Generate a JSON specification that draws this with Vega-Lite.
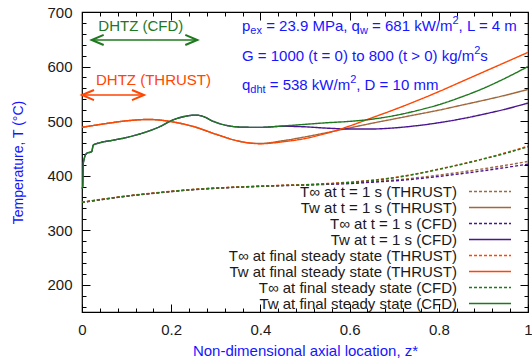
{
  "$schema": "https://vega.github.io/schema/vega-lite/v6.json",
  "width": 446,
  "height": 300,
  "autosize": "none",
  "padding": {"left": 82, "top": 12, "right": 4, "bottom": 52},
  "background": "white",
  "config": {
    "view": {"stroke": "black", "strokeWidth": 1.2},
    "axis": {"domain": false, "grid": false, "tickColor": "black", "tickWidth": 1, "labelFont": "Liberation Sans", "labelFontSize": 15, "labelColor": "#1a1a1a", "titleFont": "Liberation Sans", "titleFontSize": 15, "titleColor": "#1515ff", "titleFontWeight": "normal", "labelFlush": false, "labelOverlap": false},
    "text": {"font": "Liberation Sans"}
  },
  "datasets": {
    "series": [
      {"s": "A", "label": "T∞ at t = 1 s (THRUST)"},
      {"s": "B", "label": "Tw at t = 1 s (THRUST)"},
      {"s": "C", "label": "T∞ at t = 1 s (CFD)"},
      {"s": "D", "label": "Tw at t = 1 s (CFD)"},
      {"s": "E", "label": "T∞ at final steady state (THRUST)"},
      {"s": "F", "label": "Tw at final steady state (THRUST)"},
      {"s": "G", "label": "T∞ at final steady state (CFD)"},
      {"s": "H", "label": "Tw at final steady state (CFD)"}
    ],
    "curves": [
      {"s":"A","z":0,"T":351},{"s":"A","z":0.05,"T":357},{"s":"A","z":0.1,"T":362.5},{"s":"A","z":0.15,"T":367},{"s":"A","z":0.2,"T":371},{"s":"A","z":0.25,"T":374.5},{"s":"A","z":0.3,"T":377},{"s":"A","z":0.35,"T":379},{"s":"A","z":0.4,"T":380.5},{"s":"A","z":0.45,"T":382},{"s":"A","z":0.5,"T":383},{"s":"A","z":0.55,"T":384.5},{"s":"A","z":0.6,"T":386.5},{"s":"A","z":0.65,"T":389},{"s":"A","z":0.7,"T":392},{"s":"A","z":0.75,"T":396},{"s":"A","z":0.8,"T":401},{"s":"A","z":0.85,"T":406.5},{"s":"A","z":0.9,"T":412.5},{"s":"A","z":0.95,"T":419},{"s":"A","z":1,"T":426},
      {"s":"B","z":0,"T":488.5},{"s":"B","z":0.05,"T":495},{"s":"B","z":0.1,"T":500.5},{"s":"B","z":0.15,"T":503},{"s":"B","z":0.2,"T":499},{"s":"B","z":0.25,"T":490},{"s":"B","z":0.3,"T":476},{"s":"B","z":0.35,"T":463.5},{"s":"B","z":0.38,"T":459.5},{"s":"B","z":0.4,"T":459},{"s":"B","z":0.45,"T":464},{"s":"B","z":0.5,"T":471},{"s":"B","z":0.55,"T":479},{"s":"B","z":0.6,"T":487.5},{"s":"B","z":0.65,"T":496},{"s":"B","z":0.7,"T":504},{"s":"B","z":0.75,"T":512},{"s":"B","z":0.8,"T":520},{"s":"B","z":0.85,"T":529},{"s":"B","z":0.9,"T":538},{"s":"B","z":0.95,"T":547.5},{"s":"B","z":1,"T":558},
      {"s":"C","z":0,"T":350.8},{"s":"C","z":0.05,"T":356.8},{"s":"C","z":0.1,"T":362.3},{"s":"C","z":0.15,"T":366.8},{"s":"C","z":0.2,"T":370.8},{"s":"C","z":0.25,"T":374.3},{"s":"C","z":0.3,"T":376.8},{"s":"C","z":0.35,"T":378.8},{"s":"C","z":0.4,"T":380.3},{"s":"C","z":0.45,"T":381.7},{"s":"C","z":0.5,"T":382.7},{"s":"C","z":0.55,"T":384},{"s":"C","z":0.6,"T":385.5},{"s":"C","z":0.65,"T":388},{"s":"C","z":0.7,"T":390.5},{"s":"C","z":0.75,"T":394},{"s":"C","z":0.8,"T":398.5},{"s":"C","z":0.85,"T":403.5},{"s":"C","z":0.9,"T":409},{"s":"C","z":0.95,"T":415},{"s":"C","z":1,"T":421},
      {"s":"D","z":0,"T":376},{"s":"D","z":0.0016,"T":380},{"s":"D","z":0.0029,"T":423},{"s":"D","z":0.0105,"T":441},{"s":"D","z":0.0217,"T":444},{"s":"D","z":0.0253,"T":456},{"s":"D","z":0.0404,"T":460.4},{"s":"D","z":0.07,"T":465},{"s":"D","z":0.1,"T":470},{"s":"D","z":0.134,"T":477.6},{"s":"D","z":0.1745,"T":489.8},{"s":"D","z":0.2036,"T":502},{"s":"D","z":0.23,"T":508.5},{"s":"D","z":0.253,"T":511},{"s":"D","z":0.27,"T":509},{"s":"D","z":0.293,"T":500},{"s":"D","z":0.331,"T":491},{"s":"D","z":0.368,"T":488.6},{"s":"D","z":0.4,"T":488.5},{"s":"D","z":0.45,"T":490.5},{"s":"D","z":0.5,"T":489.5},{"s":"D","z":0.55,"T":487},{"s":"D","z":0.6,"T":485.5},{"s":"D","z":0.65,"T":485.5},{"s":"D","z":0.7,"T":487.5},{"s":"D","z":0.75,"T":491.5},{"s":"D","z":0.8,"T":497},{"s":"D","z":0.85,"T":504},{"s":"D","z":0.9,"T":512.5},{"s":"D","z":0.95,"T":522},{"s":"D","z":1,"T":533},
      {"s":"E","z":0,"T":351.3},{"s":"E","z":0.05,"T":357.3},{"s":"E","z":0.1,"T":362.8},{"s":"E","z":0.15,"T":367.3},{"s":"E","z":0.2,"T":371.3},{"s":"E","z":0.25,"T":374.8},{"s":"E","z":0.3,"T":377.3},{"s":"E","z":0.35,"T":379.3},{"s":"E","z":0.4,"T":380.8},{"s":"E","z":0.45,"T":382.3},{"s":"E","z":0.5,"T":383.5},{"s":"E","z":0.55,"T":385.5},{"s":"E","z":0.6,"T":388},{"s":"E","z":0.65,"T":391.5},{"s":"E","z":0.7,"T":396.5},{"s":"E","z":0.75,"T":403.5},{"s":"E","z":0.8,"T":412},{"s":"E","z":0.85,"T":421},{"s":"E","z":0.9,"T":431},{"s":"E","z":0.95,"T":442},{"s":"E","z":1,"T":454},
      {"s":"F","z":0,"T":488.5},{"s":"F","z":0.05,"T":495},{"s":"F","z":0.1,"T":500.5},{"s":"F","z":0.15,"T":503},{"s":"F","z":0.2,"T":499},{"s":"F","z":0.25,"T":490},{"s":"F","z":0.3,"T":476},{"s":"F","z":0.35,"T":463.5},{"s":"F","z":0.38,"T":459.5},{"s":"F","z":0.4,"T":458.5},{"s":"F","z":0.45,"T":462},{"s":"F","z":0.5,"T":468},{"s":"F","z":0.55,"T":478},{"s":"F","z":0.6,"T":491},{"s":"F","z":0.65,"T":506},{"s":"F","z":0.7,"T":521},{"s":"F","z":0.75,"T":537},{"s":"F","z":0.8,"T":554},{"s":"F","z":0.85,"T":572},{"s":"F","z":0.9,"T":590},{"s":"F","z":0.95,"T":608},{"s":"F","z":1,"T":626},
      {"s":"G","z":0,"T":351},{"s":"G","z":0.05,"T":357},{"s":"G","z":0.1,"T":362.5},{"s":"G","z":0.15,"T":367},{"s":"G","z":0.2,"T":371},{"s":"G","z":0.25,"T":374.5},{"s":"G","z":0.3,"T":377},{"s":"G","z":0.35,"T":379},{"s":"G","z":0.4,"T":380.5},{"s":"G","z":0.45,"T":382},{"s":"G","z":0.5,"T":383.2},{"s":"G","z":0.55,"T":385},{"s":"G","z":0.6,"T":387.5},{"s":"G","z":0.65,"T":391},{"s":"G","z":0.7,"T":396},{"s":"G","z":0.75,"T":403},{"s":"G","z":0.8,"T":411.5},{"s":"G","z":0.85,"T":420.5},{"s":"G","z":0.9,"T":430.5},{"s":"G","z":0.95,"T":441},{"s":"G","z":1,"T":453},
      {"s":"H","z":0,"T":376},{"s":"H","z":0.0016,"T":380},{"s":"H","z":0.0029,"T":423},{"s":"H","z":0.0105,"T":441},{"s":"H","z":0.0217,"T":444},{"s":"H","z":0.0253,"T":456},{"s":"H","z":0.0404,"T":460.4},{"s":"H","z":0.07,"T":465},{"s":"H","z":0.1,"T":470},{"s":"H","z":0.134,"T":477.6},{"s":"H","z":0.1745,"T":489.8},{"s":"H","z":0.2036,"T":502},{"s":"H","z":0.23,"T":508.5},{"s":"H","z":0.253,"T":511},{"s":"H","z":0.27,"T":509},{"s":"H","z":0.293,"T":500},{"s":"H","z":0.331,"T":491},{"s":"H","z":0.368,"T":488.6},{"s":"H","z":0.4,"T":488.5},{"s":"H","z":0.45,"T":491},{"s":"H","z":0.5,"T":494},{"s":"H","z":0.55,"T":497},{"s":"H","z":0.6,"T":499.5},{"s":"H","z":0.65,"T":503.5},{"s":"H","z":0.7,"T":510},{"s":"H","z":0.75,"T":519},{"s":"H","z":0.8,"T":530},{"s":"H","z":0.85,"T":544},{"s":"H","z":0.9,"T":560},{"s":"H","z":0.95,"T":579},{"s":"H","z":1,"T":600}
    ],
    "arrows": [
      {"name": "CFD", "z1": 0.0217, "z2": 0.2585, "T": 648.7, "zt": 0.1318, "Tt": 664.5, "label": "DHTZ (CFD)"},
      {"name": "THRUST", "z1": 0, "z2": 0.139, "T": 547.8, "zt": 0.1603, "Tt": 566.2, "label": "DHTZ (THRUST)"}
    ],
    "notes": [
      {"k": "main", "t": "p", "z": 0.3587, "T": 664.6},
      {"k": "sub", "t": "ex", "z": 0.3774, "T": 664.6},
      {"k": "main", "t": "= 23.9 MPa, q", "z": 0.4129, "T": 664.6},
      {"k": "sub", "t": "w", "z": 0.6232, "T": 664.6},
      {"k": "main", "t": "= 681 kW/m", "z": 0.6504, "T": 664.6},
      {"k": "sup", "t": "2", "z": 0.8307, "T": 664.6},
      {"k": "main", "t": ", L = 4 m", "z": 0.8444, "T": 664.6},
      {"k": "main", "t": "G = 1000 (t = 0) to 800 (t > 0) kg/m", "z": 0.3587, "T": 610.7},
      {"k": "sup", "t": "2", "z": 0.8794, "T": 610.7},
      {"k": "main", "t": "s", "z": 0.893, "T": 610.7},
      {"k": "main", "t": "q", "z": 0.3587, "T": 557.0},
      {"k": "sub", "t": "dht", "z": 0.3774, "T": 557.0},
      {"k": "main", "t": "= 538 kW/m", "z": 0.4209, "T": 557.0},
      {"k": "sup", "t": "2", "z": 0.6013, "T": 557.0},
      {"k": "main", "t": ", D = 10 mm", "z": 0.615, "T": 557.0}
    ]
  },
  "resolve": {"axis": {"x": "independent", "y": "independent"}},
  "layer": [
    {
      "data": {"name": "curves"},
      "transform": [{"lookup": "s", "from": {"data": {"name": "series"}, "key": "s", "fields": ["label"]}}],
      "mark": {"type": "line", "strokeWidth": 1.4, "interpolate": "monotone"},
      "encoding": {
        "x": {"field": "z", "type": "quantitative", "scale": {"domain": [0, 1], "nice": false, "zero": false},
              "axis": {"orient": "bottom", "values": [0, 0.2, 0.4, 0.6, 0.8, 1], "format": "~g", "tickSize": -8, "labelPadding": 18, "title": "Non-dimensional axial location, z*", "titlePadding": 6}},
        "y": {"field": "T", "type": "quantitative", "scale": {"domain": [150, 700], "nice": false, "zero": false},
              "axis": {"orient": "left", "values": [200, 300, 400, 500, 600, 700], "tickSize": -8, "labelPadding": 18, "title": "Temperature, T (°C)", "titleFontSize": 14, "titlePadding": 21}},
        "color": {"field": "label", "type": "nominal",
          "scale": {"domain": ["T∞ at t = 1 s (THRUST)", "Tw at t = 1 s (THRUST)", "T∞ at t = 1 s (CFD)", "Tw at t = 1 s (CFD)", "T∞ at final steady state (THRUST)", "Tw at final steady state (THRUST)", "T∞ at final steady state (CFD)", "Tw at final steady state (CFD)"],
                    "range": ["#a0683c", "#a0683c", "#4a1590", "#4a1590", "#ff4500", "#ff4500", "#1e781e", "#1e781e"]},
          "legend": {"title": null, "orient": "none", "legendX": 400, "legendY": 171.5, "padding": 0, "rowPadding": 0, "labelAlign": "right", "labelOffset": -41, "labelLimit": 400, "labelFont": "Liberation Sans", "labelFontSize": 15, "labelColor": "#1a1a1a", "symbolType": "M -3 0 L 3 0", "symbolSize": 196, "symbolStrokeWidth": 1.4}},
        "strokeDash": {"field": "label", "type": "nominal",
          "scale": {"domain": ["T∞ at t = 1 s (THRUST)", "Tw at t = 1 s (THRUST)", "T∞ at t = 1 s (CFD)", "Tw at t = 1 s (CFD)", "T∞ at final steady state (THRUST)", "Tw at final steady state (THRUST)", "T∞ at final steady state (CFD)", "Tw at final steady state (CFD)"],
                    "range": [[3, 2], [1, 0], [3, 2], [1, 0], [3, 2], [1, 0], [3, 2], [1, 0]]},
          "legend": {"title": null, "orient": "none", "legendX": 400, "legendY": 171.5, "padding": 0, "rowPadding": 0, "labelAlign": "right", "labelOffset": -41, "labelLimit": 400, "labelFont": "Liberation Sans", "labelFontSize": 15, "labelColor": "#1a1a1a", "symbolType": "M -3 0 L 3 0", "symbolSize": 196, "symbolStrokeWidth": 1.4}}
      }
    },
    {
      "data": {"name": "arrows"},
      "transform": [{"filter": "datum.name === 'CFD'"}],
      "mark": {"type": "rule", "color": "#1e781e", "strokeWidth": 1.6},
      "encoding": {
        "x": {"field": "z1", "type": "quantitative", "scale": {"domain": [0, 1], "nice": false, "zero": false},
              "axis": {"orient": "bottom", "values": [0.04,0.08,0.12,0.16,0.24,0.28,0.32,0.36,0.44,0.48,0.52,0.56,0.64,0.68,0.72,0.76,0.84,0.88,0.92,0.96], "labels": false, "tickSize": -4, "title": null}},
        "x2": {"field": "z2"},
        "y": {"field": "T", "type": "quantitative", "scale": {"domain": [150, 700], "nice": false, "zero": false},
              "axis": {"orient": "left", "values": [160,180,220,240,260,280,320,340,360,380,420,440,460,480,520,540,560,580,620,640,660,680], "labels": false, "tickSize": -4, "title": null}}
      }
    },
    {
      "data": {"name": "arrows"},
      "transform": [{"filter": "datum.name === 'THRUST'"}],
      "mark": {"type": "rule", "color": "#ff4500", "strokeWidth": 1.6},
      "encoding": {
        "x": {"field": "z1", "type": "quantitative", "scale": {"domain": [0, 1], "nice": false, "zero": false},
              "axis": {"orient": "top", "values": [0, 0.2, 0.4, 0.6, 0.8, 1], "labels": false, "tickSize": -8, "title": null}},
        "x2": {"field": "z2"},
        "y": {"field": "T", "type": "quantitative", "scale": {"domain": [150, 700], "nice": false, "zero": false},
              "axis": {"orient": "right", "values": [200, 300, 400, 500, 600, 700], "labels": false, "tickSize": -8, "title": null}}
      }
    },
    {
      "data": {"name": "arrows"},
      "transform": [{"filter": "datum.name === 'CFD'"}],
      "mark": {"type": "point", "shape": "M -1 -0.42 L 0 0 L -1 0.42", "filled": false, "size": 576, "strokeWidth": 2, "color": "#1e781e", "opacity": 1},
      "encoding": {
        "x": {"field": "z2", "type": "quantitative", "scale": {"domain": [0, 1], "nice": false, "zero": false},
              "axis": {"orient": "top", "values": [0.04,0.08,0.12,0.16,0.24,0.28,0.32,0.36,0.44,0.48,0.52,0.56,0.64,0.68,0.72,0.76,0.84,0.88,0.92,0.96], "labels": false, "tickSize": -4, "title": null}},
        "y": {"field": "T", "type": "quantitative", "scale": {"domain": [150, 700], "nice": false, "zero": false},
              "axis": {"orient": "right", "values": [160,180,220,240,260,280,320,340,360,380,420,440,460,480,520,540,560,580,620,640,660,680], "labels": false, "tickSize": -4, "title": null}}
      }
    },
    {
      "data": {"name": "arrows"},
      "transform": [{"filter": "datum.name === 'CFD'"}],
      "mark": {"type": "point", "shape": "M 1 -0.42 L 0 0 L 1 0.42", "filled": false, "size": 576, "strokeWidth": 2, "color": "#1e781e", "opacity": 1},
      "encoding": {
        "x": {"field": "z1", "type": "quantitative", "scale": {"domain": [0, 1], "nice": false, "zero": false}, "axis": null},
        "y": {"field": "T", "type": "quantitative", "scale": {"domain": [150, 700], "nice": false, "zero": false}, "axis": null}
      }
    },
    {
      "data": {"name": "arrows"},
      "transform": [{"filter": "datum.name === 'THRUST'"}],
      "mark": {"type": "point", "shape": "M -1 -0.42 L 0 0 L -1 0.42", "filled": false, "size": 576, "strokeWidth": 2, "color": "#ff4500", "opacity": 1},
      "encoding": {
        "x": {"field": "z2", "type": "quantitative", "scale": {"domain": [0, 1], "nice": false, "zero": false}, "axis": null},
        "y": {"field": "T", "type": "quantitative", "scale": {"domain": [150, 700], "nice": false, "zero": false}, "axis": null}
      }
    },
    {
      "data": {"name": "arrows"},
      "transform": [{"filter": "datum.name === 'THRUST'"}],
      "mark": {"type": "point", "shape": "M 1 -0.42 L 0 0 L 1 0.42", "filled": false, "size": 576, "strokeWidth": 2, "color": "#ff4500", "opacity": 1},
      "encoding": {
        "x": {"field": "z1", "type": "quantitative", "scale": {"domain": [0, 1], "nice": false, "zero": false}, "axis": null},
        "y": {"field": "T", "type": "quantitative", "scale": {"domain": [150, 700], "nice": false, "zero": false}, "axis": null}
      }
    },
    {
      "data": {"name": "arrows"},
      "transform": [{"filter": "datum.name === 'CFD'"}],
      "mark": {"type": "text", "fontSize": 15, "align": "center", "baseline": "alphabetic", "color": "#1e781e"},
      "encoding": {
        "x": {"field": "zt", "type": "quantitative", "scale": {"domain": [0, 1], "nice": false, "zero": false}, "axis": null},
        "y": {"field": "Tt", "type": "quantitative", "scale": {"domain": [150, 700], "nice": false, "zero": false}, "axis": null},
        "text": {"field": "label"}
      }
    },
    {
      "data": {"name": "arrows"},
      "transform": [{"filter": "datum.name === 'THRUST'"}],
      "mark": {"type": "text", "fontSize": 15, "align": "center", "baseline": "alphabetic", "color": "#ff4500"},
      "encoding": {
        "x": {"field": "zt", "type": "quantitative", "scale": {"domain": [0, 1], "nice": false, "zero": false}, "axis": null},
        "y": {"field": "Tt", "type": "quantitative", "scale": {"domain": [150, 700], "nice": false, "zero": false}, "axis": null},
        "text": {"field": "label"}
      }
    },
    {
      "data": {"name": "notes"},
      "transform": [{"filter": "datum.k === 'main'"}],
      "mark": {"type": "text", "fontSize": 15, "align": "left", "baseline": "alphabetic", "color": "#1515ff"},
      "encoding": {
        "x": {"field": "z", "type": "quantitative", "scale": {"domain": [0, 1], "nice": false, "zero": false}, "axis": null},
        "y": {"field": "T", "type": "quantitative", "scale": {"domain": [150, 700], "nice": false, "zero": false}, "axis": null},
        "text": {"field": "t"}
      }
    },
    {
      "data": {"name": "notes"},
      "transform": [{"filter": "datum.k === 'sub'"}],
      "mark": {"type": "text", "fontSize": 11, "align": "left", "baseline": "alphabetic", "dy": 3, "color": "#1515ff"},
      "encoding": {
        "x": {"field": "z", "type": "quantitative", "scale": {"domain": [0, 1], "nice": false, "zero": false}, "axis": null},
        "y": {"field": "T", "type": "quantitative", "scale": {"domain": [150, 700], "nice": false, "zero": false}, "axis": null},
        "text": {"field": "t"}
      }
    },
    {
      "data": {"name": "notes"},
      "transform": [{"filter": "datum.k === 'sup'"}],
      "mark": {"type": "text", "fontSize": 11, "align": "left", "baseline": "alphabetic", "dy": -7, "color": "#1515ff"},
      "encoding": {
        "x": {"field": "z", "type": "quantitative", "scale": {"domain": [0, 1], "nice": false, "zero": false}, "axis": null},
        "y": {"field": "T", "type": "quantitative", "scale": {"domain": [150, 700], "nice": false, "zero": false}, "axis": null},
        "text": {"field": "t"}
      }
    }
  ]
}
